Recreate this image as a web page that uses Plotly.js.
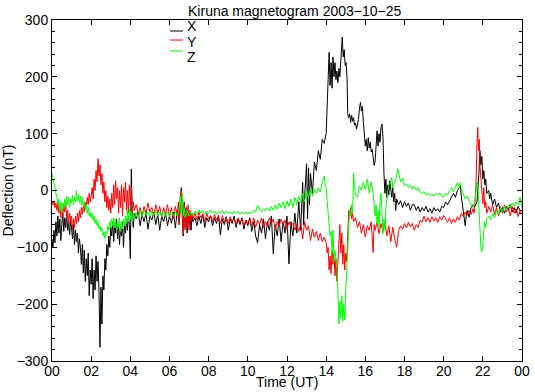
<!DOCTYPE html>
<html>
<head>
<meta charset="utf-8">
<script src="https://cdn.plot.ly/plotly-3.0.1.min.js"></script>
<style>html,body{margin:0;padding:0;background:#fff;}#chart{width:535px;height:392px;}</style>
</head>
<body>
<div id="chart"></div>
<script>
// Time in hours UT, deflection in nT
const timeX = [
0,0.05,0.1,0.15,0.2,0.25,0.3,0.35,0.4,0.45,
0.5,0.55,0.6,0.65,0.7,0.75,0.8,0.85,0.9,0.95,
1,1.05,1.1,1.15,1.2,1.25,1.3,1.35,1.4,1.45,
1.5,1.55,1.6,1.65,1.7,1.75,1.8,1.85,1.9,1.95,
2,2.05,2.1,2.15,2.2,2.25,2.3,2.35,2.4,2.45,
2.5,2.55,2.6,2.65,2.7,2.75,2.8,2.85,2.9,2.95,
3,3.05,3.1,3.15,3.2,3.25,3.3,3.35,3.4,3.45,
3.5,3.55,3.6,3.65,3.7,3.75,3.8,3.85,3.9,3.95,
4,4.05,4.1,4.15,4.2,4.3,4.4,4.5,4.6,4.7,
4.8,4.9,5,5.1,5.2,5.3,5.4,5.5,5.6,5.7,
5.8,5.9,6,6.1,6.2,6.3,6.4,6.5,6.55,6.6,
6.65,6.7,6.75,6.8,6.85,6.9,6.95,7,7.05,7.1,
7.15,7.2,7.3,7.4,7.5,7.6,7.7,7.8,7.9,8,
8.1,8.2,8.3,8.4,8.5,8.6,8.7,8.8,8.9,9,
9.1,9.2,9.3,9.4,9.5,9.6,9.7,9.8,9.9,10,
10.1,10.2,10.3,10.4,10.5,10.6,10.7,10.8,10.9,11,
11.1,11.2,11.3,11.4,11.5,11.6,11.7,11.8,11.9,12,
12.1,12.2,12.3,12.4,12.5,12.6,12.7,12.8,12.85,12.9,
13,13.05,13.1,13.15,13.2,13.3,13.4,13.5,13.6,13.7,
13.8,13.9,14,14.05,14.1,14.15,14.2,14.25,14.3,14.35,
14.4,14.45,14.5,14.55,14.6,14.65,14.7,14.75,14.82,14.87,
14.92,14.97,15.02,15.07,15.1,15.15,15.2,15.25,15.3,15.35,
15.4,15.45,15.5,15.55,15.6,15.65,15.7,15.75,15.8,15.85,
15.9,15.95,16,16.05,16.1,16.15,16.2,16.25,16.3,16.35,
16.4,16.45,16.5,16.55,16.6,16.65,16.7,16.75,16.8,16.85,
16.9,16.95,17,17.05,17.1,17.15,17.2,17.25,17.3,17.35,
17.4,17.45,17.5,17.55,17.6,17.7,17.8,17.9,18,18.1,
18.2,18.3,18.4,18.5,18.6,18.7,18.8,18.9,19,19.1,
19.2,19.3,19.4,19.5,19.6,19.7,19.8,19.9,20,20.1,
20.2,20.3,20.4,20.5,20.6,20.7,20.8,20.85,20.9,21,
21.1,21.15,21.2,21.3,21.4,21.5,21.6,21.7,21.75,21.8,
21.85,21.9,21.95,22,22.05,22.1,22.15,22.2,22.3,22.35,
22.4,22.5,22.6,22.7,22.8,22.9,23,23.1,23.2,23.3,
23.4,23.5,23.6,23.7,23.8,23.9,24
];
const deflX = [
-85,-100,-70,-92,-55,-80,-45,-75,-50,-88,
-60,-40,-72,-48,-65,-42,-70,-55,-78,-50,
-68,-85,-60,-95,-70,-90,-75,-110,-85,-100,
-130,-95,-145,-105,-160,-120,-150,-110,-185,-140,
-165,-120,-190,-140,-175,-115,-160,-125,-180,-276,
-170,-235,-150,-175,-120,-140,-95,-115,-80,-100,
-65,-80,-55,-90,-60,-75,-50,-85,-60,-95,
-65,-80,-55,-100,-60,-75,-50,-70,-45,-60,
-120,38,-45,-65,-40,-50,-38,-62,-42,-55,
-40,-68,-45,-52,-38,-60,-42,-70,-45,-55,
-40,-62,-44,-58,-38,-66,-35,-60,-25,5,
-40,-80,-20,-65,-30,-75,-35,-60,-40,-70,
-45,-55,-48,-62,-45,-58,-42,-65,-48,-55,
-45,-62,-48,-58,-44,-78,-50,-60,-46,-70,
-50,-58,-45,-65,-50,-60,-48,-68,-52,-62,
-48,-72,-55,-80,-92,-60,-75,-50,-85,-55,
-70,-45,-111,-60,-80,-50,-90,-55,-75,-45,
-129,-55,-80,-40,-75,-20,-70,14,-60,-10,
47,-50,40,-25,30,-5,50,35,70,55,
90,83,100,140,175,243,185,225,180,235,
200,225,195,210,190,215,200,230,270,235,
248,220,225,195,135,128,135,120,132,122,
128,115,118,108,115,125,145,155,140,148,
120,88,78,90,70,93,75,85,68,72,
60,44,52,80,105,78,100,85,111,117,
95,30,-5,20,-12,10,-8,17,0,-12,
5,-20,-5,-35,-15,-25,-18,-30,-20,-28,
-22,-35,-25,-25,-35,-28,-38,-30,-36,-28,
-38,-32,-40,-30,-36,-32,-38,-28,-30,-20,
-25,-18,-10,-5,-12,0,5,9,-10,-40,
-62,-45,-35,-47,-30,-25,-28,-20,0,30,
70,45,60,20,35,10,20,-5,0,-15,
-5,-25,-15,-30,-22,-38,-30,-40,-28,-35,
-25,-38,-30,-40,-28,-35,-35
];

const timeY = [
0,0.05,0.1,0.15,0.2,0.25,0.3,0.35,0.4,0.45,
0.5,0.55,0.6,0.65,0.7,0.75,0.8,0.85,0.9,0.95,
1,1.05,1.1,1.15,1.2,1.25,1.3,1.35,1.4,1.45,
1.5,1.55,1.6,1.65,1.7,1.75,1.8,1.85,1.9,1.95,
2,2.05,2.1,2.15,2.2,2.25,2.3,2.35,2.4,2.45,
2.5,2.55,2.6,2.65,2.7,2.75,2.8,2.85,2.9,2.95,
3,3.05,3.1,3.15,3.2,3.25,3.3,3.35,3.4,3.45,
3.5,3.55,3.6,3.65,3.7,3.75,3.8,3.85,3.9,3.95,
4,4.05,4.1,4.15,4.2,4.3,4.4,4.5,4.6,4.7,
4.8,4.9,5,5.1,5.2,5.3,5.4,5.5,5.6,5.7,
5.8,5.9,6,6.1,6.2,6.3,6.4,6.45,6.5,6.55,
6.6,6.65,6.7,6.75,6.8,6.85,6.9,6.95,7,7.05,
7.1,7.15,7.2,7.3,7.4,7.5,7.6,7.7,7.8,7.9,
8,8.1,8.2,8.3,8.4,8.5,8.6,8.7,8.8,8.9,
9,9.1,9.2,9.3,9.4,9.5,9.6,9.7,9.8,9.9,
10,10.1,10.2,10.3,10.4,10.5,10.6,10.7,10.8,10.9,
11,11.1,11.2,11.3,11.4,11.5,11.6,11.7,11.8,11.9,
12,12.1,12.2,12.3,12.4,12.5,12.6,12.7,12.8,12.9,
13,13.1,13.2,13.3,13.4,13.5,13.6,13.7,13.8,13.9,
14,14.05,14.1,14.15,14.2,14.25,14.3,14.35,14.4,14.45,
14.5,14.55,14.6,14.65,14.7,14.75,14.8,14.85,14.9,14.95,
15,15.05,15.1,15.15,15.2,15.25,15.3,15.35,15.4,15.5,
15.6,15.7,15.8,15.9,16,16.1,16.2,16.3,16.4,16.45,
16.5,16.6,16.7,16.8,16.9,17,17.1,17.2,17.3,17.4,
17.5,17.6,17.7,17.8,17.9,18,18.1,18.2,18.3,18.4,
18.5,18.6,18.7,18.8,18.9,19,19.1,19.2,19.3,19.4,
19.5,19.6,19.7,19.8,19.9,20,20.1,20.2,20.3,20.4,
20.5,20.6,20.7,20.8,20.9,21,21.1,21.2,21.3,21.4,
21.5,21.55,21.6,21.65,21.7,21.74,21.78,21.82,21.86,21.9,
21.95,22,22.05,22.1,22.15,22.2,22.3,22.4,22.5,22.6,
22.7,22.8,22.9,23,23.1,23.2,23.3,23.4,23.5,23.6,
23.7,23.8,23.9,24
];
const deflY = [
-20,-25,-18,-30,-22,-35,-20,-40,-28,-48,
-30,-45,-25,-38,-20,-50,-35,-60,-40,-55,
-45,-70,-50,-65,-45,-58,-40,-55,-35,-48,
-30,-42,-25,-38,-20,-30,-12,-25,-5,-20,
-10,5,-15,20,0,35,15,56,25,45,
10,30,-5,15,-20,0,-30,-10,-35,-15,
-40,-5,-30,10,-25,17,-15,5,-40,0,
-30,10,-45,5,-20,15,-35,0,-40,10,
-25,5,-40,-20,-35,-25,-42,-30,-45,-28,
-40,-22,-38,-30,-45,-25,-40,-28,-48,-30,
-42,-25,-45,-30,-50,-28,-45,-20,-60,-10,
0,-55,-76,-25,-70,-30,-65,-25,-70,-35,
-55,-40,-50,-40,-52,-38,-48,-42,-55,-40,
-50,-44,-55,-42,-52,-45,-58,-44,-55,-48,
-58,-46,-55,-50,-60,-48,-56,-50,-62,-52,
-58,-50,-62,-48,-65,-52,-60,-48,-66,-55,
-62,-48,-58,-50,-68,-55,-62,-50,-60,-52,
-68,-55,-62,-58,-70,-60,-72,-58,-85,-55,
-70,-62,-88,-68,-82,-72,-88,-75,-90,-82,
-92,-110,-100,-140,-115,-146,-105,-130,-110,-150,
-120,-160,-125,-95,-60,-110,-75,-130,-95,-140,
-110,-125,-90,-35,-45,-30,-50,-40,-55,-48,
-65,-55,-75,-60,-82,-62,-70,-55,-109,-60,
-70,-55,-76,-58,-72,-55,-80,-62,-90,-65,
-85,-100,-70,-62,-68,-58,-66,-56,-64,-58,
-70,-60,-65,-52,-56,-45,-55,-48,-56,-46,
-54,-48,-56,-46,-52,-44,-50,-56,-48,-58,
-50,-56,-46,-52,-40,-46,-38,-44,-35,-42,
-32,-40,-20,10,80,111,70,90,40,20,
-10,-23,5,-30,-20,-40,-28,-38,-25,-42,
-30,-45,-28,-40,-25,-38,-30,-45,-28,-40,
-32,-46,-35,-42
];

const timeZ = [
0,0.05,0.1,0.15,0.2,0.25,0.3,0.35,0.4,0.45,
0.5,0.55,0.6,0.65,0.7,0.75,0.8,0.85,0.9,0.95,
1,1.05,1.1,1.15,1.2,1.25,1.3,1.35,1.4,1.45,
1.5,1.55,1.6,1.65,1.7,1.75,1.8,1.85,1.9,1.95,
2,2.05,2.1,2.15,2.2,2.25,2.3,2.35,2.4,2.45,
2.5,2.55,2.6,2.65,2.7,2.75,2.8,2.85,2.9,2.95,
3,3.05,3.1,3.15,3.2,3.25,3.3,3.35,3.4,3.45,
3.5,3.55,3.6,3.65,3.7,3.75,3.8,3.85,3.9,3.95,
4,4.05,4.1,4.15,4.2,4.3,4.4,4.5,4.6,4.7,
4.8,4.9,5,5.1,5.2,5.3,5.4,5.5,5.6,5.7,
5.8,5.9,6,6.1,6.2,6.3,6.4,6.5,6.55,6.6,
6.65,6.7,6.75,6.8,6.9,7,7.1,7.2,7.3,7.4,
7.5,7.6,7.7,7.8,7.9,8,8.1,8.2,8.3,8.4,
8.5,8.6,8.7,8.8,8.9,9,9.1,9.2,9.3,9.4,
9.5,9.6,9.7,9.8,9.9,10,10.1,10.2,10.3,10.4,
10.5,10.6,10.7,10.8,10.9,11,11.1,11.2,11.3,11.4,
11.5,11.6,11.7,11.8,11.9,12,12.1,12.2,12.3,12.4,
12.5,12.6,12.7,12.8,12.9,13,13.1,13.2,13.3,13.4,
13.5,13.6,13.7,13.8,13.9,13.95,14,14.05,14.1,14.15,
14.2,14.25,14.3,14.35,14.4,14.45,14.5,14.55,14.6,14.65,
14.7,14.75,14.8,14.85,14.9,14.95,15,15.05,15.1,15.15,
15.2,15.25,15.3,15.35,15.4,15.45,15.5,15.6,15.7,15.8,
15.9,16,16.1,16.2,16.3,16.4,16.45,16.5,16.55,16.6,
16.65,16.7,16.75,16.8,16.85,16.9,16.95,17,17.05,17.1,
17.15,17.2,17.3,17.35,17.4,17.5,17.6,17.65,17.7,17.8,
17.9,18,18.1,18.2,18.3,18.4,18.5,18.6,18.7,18.8,
18.9,19,19.1,19.2,19.3,19.4,19.5,19.6,19.7,19.8,
19.9,20,20.1,20.2,20.3,20.4,20.5,20.6,20.7,20.8,
20.85,20.9,21,21.1,21.2,21.3,21.4,21.5,21.6,21.7,
21.75,21.8,21.85,21.9,21.95,22,22.05,22.1,22.15,22.2,
22.3,22.4,22.5,22.6,22.7,22.8,22.9,23,23.1,23.2,
23.3,23.4,23.5,23.6,23.7,23.8,23.9,24
];
const deflZ = [
30,20,12,5,-5,-12,-25,-15,-35,-20,
-40,-22,-32,-15,-28,-10,-25,-12,-30,-15,
-22,-8,-25,-12,-20,0,-18,-8,-22,-10,
-25,-12,-28,-20,-35,-25,-40,-30,-45,-38,
-48,-40,-52,-45,-58,-50,-62,-55,-68,-62,
-72,-66,-80,-74,-85,-72,-76,-62,-70,-55,
-65,-50,-62,-48,-66,-52,-70,-55,-65,-48,
-72,-55,-68,-50,-62,-45,-58,-35,-55,-30,
-50,-38,-55,-40,-50,-38,-48,-36,-46,-34,
-44,-38,-46,-36,-44,-35,-45,-37,-46,-36,
-44,-38,-46,-36,-44,-38,-45,-30,-10,-40,
-5,-45,-30,-48,-35,-45,-38,-44,-36,-42,
-34,-40,-35,-42,-36,-40,-34,-40,-36,-42,
-37,-40,-35,-41,-36,-40,-38,-42,-36,-40,
-37,-42,-38,-41,-37,-42,-38,-40,-35,-38,
-26,-34,-38,-32,-36,-30,-36,-28,-35,-25,
-33,-22,-30,-20,-32,-18,-28,-15,-30,-12,
-25,-10,-22,-5,-20,0,-15,5,-10,2,
-5,5,-3,15,25,12,5,-18,-35,-60,
-80,-72,-110,-70,-125,-105,-120,-135,-175,-235,
-195,-225,-185,-230,-200,-228,-175,-140,-90,-55,
-35,-45,-25,-40,30,5,-8,-12,8,0,
14,2,20,-5,15,-5,-20,-45,-25,-60,
-35,-65,-20,-5,-40,-76,-50,-70,-30,-10,
0,10,15,23,5,15,25,39,30,15,
22,8,12,5,10,2,8,0,5,-3,
-5,-2,-8,-5,-9,-6,-10,-5,-8,-4,
-10,-12,-5,-8,0,5,-2,8,14,5,
14,2,-5,-15,-10,-18,-25,-30,-20,15,
5,-40,-82,-100,-108,-95,-70,-55,-65,-50,
-45,-52,-40,-48,-35,-42,-30,-38,-28,-35,
-25,-30,-22,-28,-20,-25,-12,-30
];

const seriesNames = ['X', 'Y', 'Z'];
const seriesColors = ['#000000', '#ff0000', '#00ff00'];
const hourTicks = [0,2,4,6,8,10,12,14,16,18,20,22,24];
const hourLabels = ['00','02','04','06','08','10','12','14','16','18','20','22','00'];
const nTTicks = [-300,-200,-100,0,100,200,300];

const FONT = 'Liberation Sans, Arial, Helvetica, sans-serif';
const times = [timeX, timeY, timeZ];
const vals = [deflX, deflY, deflZ];

const traces = seriesNames.map((n, i) => ({
  x: times[i], y: vals[i], name: n, type: 'scatter', mode: 'lines',
  line: {color: seriesColors[i], width: 1}, showlegend: false
}));

// legend drawn IDL-style: short line samples + labels
const legLineY = [0.9677, 0.9413, 0.9090];
const legTextY = [0.9830, 0.9369, 0.8914];
const shapes = seriesNames.map((n, i) => ({
  type: 'line', xref: 'paper', yref: 'paper', x0: 0.2511, x1: 0.2787,
  y0: legLineY[i], y1: legLineY[i], line: {color: seriesColors[i], width: 1}
}));
const annotations = seriesNames.map((n, i) => ({
  text: n, xref: 'paper', yref: 'paper', x: 0.2851, y: legTextY[i],
  xanchor: 'left', yanchor: 'middle', showarrow: false, borderpad: 0,
  font: {family: FONT, size: 14, color: '#000'}
}));
// x-axis title placed just under the tick labels, as in the reference
annotations.push({
  text: 'Time (UT)', xref: 'paper', yref: 'paper', x: 0.5, y: -0.0625,
  xanchor: 'center', yanchor: 'middle', showarrow: false, borderpad: 0,
  font: {family: FONT, size: 14, color: '#000'}
});

const axisCommon = {
  showgrid: false, zeroline: false, showline: true, linecolor: '#000', linewidth: 1,
  mirror: 'ticks', ticks: 'inside', ticklen: 5, tickwidth: 1, tickcolor: '#000',
  tickfont: {family: FONT, size: 14, color: '#000'}
};

const layout = {
  width: 535, height: 392,
  margin: {l: 52, r: 13, t: 20, b: 31, pad: 0},
  paper_bgcolor: '#fff', plot_bgcolor: '#fff',
  font: {family: FONT, size: 14, color: '#000'},
  title: {text: 'Kiruna magnetogram 2003\u221210\u221225', xref: 'paper', x: 0.2894, xanchor: 'left',
          yref: 'container', y: 0.972, yanchor: 'middle', font: {family: FONT, size: 14, color: '#000'}},
  xaxis: Object.assign({}, axisCommon, {
    range: [0, 24], tickmode: 'array', tickvals: hourTicks, ticktext: hourLabels,
    ticklabelstandoff: -3
  }),
  yaxis: Object.assign({}, axisCommon, {
    range: [-300, 300], tickmode: 'array', tickvals: nTTicks,
    minor: {dtick: 20, ticks: 'inside', ticklen: 3, tickcolor: '#000', showgrid: false},
    title: {text: 'Deflection (nT)', font: {family: FONT, size: 14, color: '#000'}, standoff: 2}
  }),
  shapes: shapes, annotations: annotations, showlegend: false
};

Plotly.newPlot('chart', traces, layout, {staticPlot: true, displayModeBar: false});
</script>
</body>
</html>
